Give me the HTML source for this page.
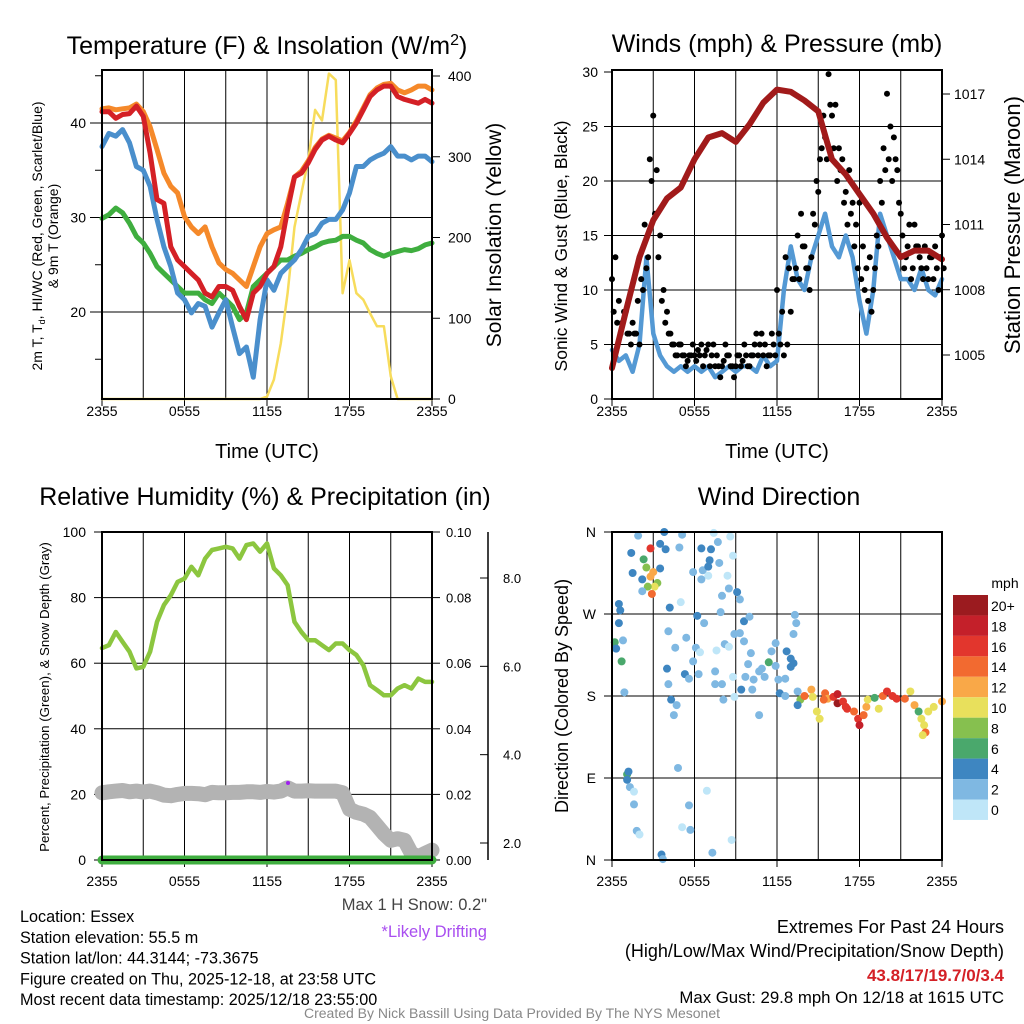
<!DOCTYPE html>
<html><head><meta charset="utf-8"><style>
body{margin:0;background:#fff;}
svg{display:block;font-family:"Liberation Sans",sans-serif;}
</style></head><body>
<svg id="c" width="1024" height="1024" viewBox="0 0 1024 1024"></svg>
<script>
// ---- data ----
const hrs49 = Array.from({length:49},(_,i)=>i*0.5);
const hrs25 = Array.from({length:25},(_,i)=>i);
const hrs97 = Array.from({length:97},(_,i)=>i*0.25);
const hrs97b = Array.from({length:97},(_,i)=>i*0.25+0.125);
const xTickLabels = ["2355","0555","1155","1755","2355"];
const tempRed = [41.2,41.2,40.5,40.9,41,41.8,40.7,36.8,31.9,31.5,26.9,25.5,24.8,24.1,23.4,22,21.6,22.7,22.7,22.3,20.6,19.2,22,22.7,24.1,24.8,26.9,30.8,34.3,34.7,35.8,37.2,38.2,38.6,38.2,37.9,38.9,40,41.4,42.8,43.5,43.9,43.9,42.8,42.5,42.3,42.1,42.5,42.1];
const tempOrange = [41.5,41.6,41.4,41.5,41.6,42,41.2,39.6,37.2,34.7,33.3,32.6,30.1,29,28.3,29,26.9,25.2,24.5,24.1,23.4,22.7,24.8,26.9,28.3,28.7,29,31.5,34.3,34.9,36,37.4,38.3,38.7,38.4,38.1,39,40.2,41.6,43,43.7,44.1,44.2,43.5,43.2,43.5,43.9,43.9,43.5];
const tempBlue = [37.5,38.9,38.6,39.3,37.9,35.4,35,33.3,29.8,26.9,24.8,22,21.3,19.9,20.9,20.6,18.4,19.9,21.3,18.4,15.6,16.3,13.1,19.2,23.4,22.3,24.1,24.8,25.5,26.6,28,28.3,29.4,29.8,29.8,30.8,32.6,35.4,35.4,36.1,36.5,36.8,37.5,36.5,36.5,36.1,36.5,36.5,35.9];
const tempGreen = [29.9,30.3,31,30.5,29.4,28,27.3,26.2,24.8,24.1,23.4,22.7,22,22,22,21.3,20.9,22,21.3,20.6,19.2,19.9,22.7,23.4,24.1,24.8,25.5,25.5,25.9,26.2,26.6,26.9,27.3,27.5,27.6,28,28,27.6,27.3,26.6,26.2,25.9,26.2,26.4,26.6,26.5,26.7,27.1,27.3];
const solar = [0,0,0,0,0,0,0,0,0,0,0,0,0,0,0,0,0,0,0,0,0,0,0,0,3,24,69,131,213,255,296,358,345,403,395,131,172,131,123,106,90,90,28,0,0,0,0,0,0];
const windSpd = [4.5,3.5,4,2.5,5,13,6,4,3,2.5,3,2.5,3,2.5,3,2,2.5,3,2.5,3,3,2.5,4,3,3.5,10,14,11,10,13,15,17,14,13,15,13,9,6,10,17,15,13,11,11,10,12,10,9.5,11];
const windGust = [11,13,9,7,8,6,7,6,5,10,12,22,26,21,15,10,8,6,5,4,5,4,3.5,4,4,4.5,5,4,5,4,3,3,3,5,4,3,3,4,3.5,4,3,4,6,5,4,3,4,5,10,5,4,5,8,11,15,17,14,12,13,16,19,23,24,29.8,26,27,23,22,19,21,18,16,18,14,12,13,10,15,20,23,28,25,24,21,17,12,14,11,16,14,12,14,11,13,14,10,15];
const windGust2 = [8,7,6,8,6,5,6,9,11,16,13,20,17,13,9,7,6,5,4,5,4,3,4,5,3.5,4,3,4.5,3,5,4,2,3.5,4,3,2,4,3,5,3,4,5,4,6,5,4,6,4,6,8,13,12,11,12,11,14,12,10,17,20,22,26,22,27,23,20,21,18,16,17,14,12,11,10,9,8,12,14,18,21,22,20,22,18,15,13,16,12,14,13,11,12,13,11,12,13,12];
const pressure = [1004.4,1007,1009.5,1011.2,1012.2,1012.7,1014,1015,1015.2,1014.8,1015.6,1016.6,1017.2,1017.1,1016.7,1016.2,1014,1013.3,1012.4,1011.5,1010.4,1009.5,1009.8,1009.8,1009.4];
const rh = [64.6,65.5,69.5,66.5,63.5,58.4,58.9,63.5,72.6,77.7,80.7,84.8,85.8,89.4,86.8,91.9,94.5,95,95.5,95,91.9,96,96.5,94,96.5,88.9,86.8,83.8,72.6,69.5,67,67,65.5,64,66,66,64,62.5,59.4,53.3,51.8,50.2,50.2,52.3,53.3,52.3,55.3,54.3,54.3];
const snowPct = [20.5,20.8,21,21.2,20.8,21,20.7,21,20.5,19.8,19.6,20,20.3,20.3,20.2,19.9,20.6,20.5,20.5,20.6,20.6,20.8,20.8,20.6,20.9,20.7,21,22,21,21,21.1,21,21,21,21,20.5,15.5,14.5,14,13,10.5,8,6,6.5,6,2,1,2,3];
const precip = new Array(49).fill(0);
const wdTime=[1.9,3.8,5.1,7.4,1.4,2.8,2.3,3.5,3.9,4.9, 6.5,7.2,7.7,8.6,8.8,1.5,2.2,2.5,3.0,2.8, 3.3,3.1,2.6,2.9,2.2,3.5,5.9,6.6,7.0,6.5, 7.1,7.0,7.8,8.4,8.5,8.0,9.1,9.3,5.0,4.2, 0.5,0.6,0.5,0.2,0.8,0.3,0.7,0.9,4.1,5.4, 4.6,6.1,6.4,6.7,6.2,7.9,7.6,8.2,8.5,9.6, 10.0,9.3,8.9,9.6,10.1,9.9,4.0,5.3,5.6,5.9, 6.3,7.5,4.1,7.5,8.0,8.8,9.7,10.3,10.7,11.4, 10.9,11.6,11.9,11.9,11.1,12.7,13.0,13.0,13.2,13.3, 13.4,13.2,12.1,12.6,9.4,10.2,12.2,12.6,8.1,8.9, 4.3,4.7,4.5,10.7,1.1,1.2,1.1,1.3,1.6,1.6, 1.8,2.0,4.8,5.6,5.1,5.7,6.9,7.3,8.7,3.6, 3.7,
13.5,13.7,13.5,14.0,14.5,14.6,14.9,15.1,15.5,15.7, 16.1,16.4,16.4,16.8,17.1,17.6,17.9,18.0,18.3,18.5, 18.6,19.1,19.4,19.7,20.0,20.4,20.7,21.3,21.7,22.0, 22.3,22.5,22.7,22.8,23.0,23.4,24.0,22.6,15.4,17.0];
const wdDir=[356,360,357,359,337,342,330,347,341,343, 342,341,349,355,334,315,308,321,316,311, 304,300,300,292,295,320,316,318,312,308, 329,322,326,312,298,290,294,286,283,277, 281,274,260,239,241,232,218,184,251,244, 233,233,228,260,268,272,230,237,234,262, 267,249,248,240,227,215,210,204,199,218, 204,207,193,193,193,201,201,198,207,217, 210,229,238,213,201,229,221,212,216,269, 260,248,198,199,187,187,183,180,176,179, 176,170,159,159,94,97,88,80,75,61, 32,28,101,60,36,33,76,8,22,6, 1,
185,176,170,180,187,179,163,155,183,177, 179,182,172,174,166,163,155,148,159,168, 176,178,166,180,185,180,177,177,185,170, 163,155,148,140,163,168,174,137,176,168];
const wdSpd=[2.5,4.5,2.5,0.5,4.5,16.5,6.5,4.5,4.5,2.5, 4.5,4.5,2.5,0.5,0.5,4.5,4.5,8.5,12.5,12.5, 8.5,10.5,8.5,14.5,2.5,4.5,2.5,2.5,0.5,2.5, 4.5,4.5,2.5,0.5,2.5,2.5,4.5,2.5,0.5,4.5, 4.5,4.5,4.5,6.5,2.5,4.5,6.5,2.5,2.5,2.5, 2.5,2.5,0.5,2.5,4.5,2.5,0.5,2.5,0.5,4.5, 2.5,2.5,2.5,2.5,2.5,2.5,4.5,4.5,2.5,2.5, 2.5,2.5,2.5,2.5,2.5,0.5,2.5,2.5,2.5,6.5, 2.5,2.5,2.5,2.5,2.5,4.5,4.5,4.5,4.5,2.5, 2.5,2.5,2.5,2.5,4.5,2.5,4.5,2.5,2.5,0.5, 4.5,2.5,2.5,2.5,6.5,4.5,4.5,2.5,0.5,2.5, 2.5,0.5,2.5,2.5,0.5,2.5,0.5,2.5,0.5,4.5, 2.5,
2.5,8.5,4.5,14.5,12.5,10.5,10.5,10.5,14.5,12.5, 16.5,18.5,20.5,16.5,16.5,14.5,16.5,18.5,14.5,12.5, 10.5,6.5,10.5,14.5,16.5,16.5,16.5,14.5,10.5,12.5, 6.5,10.5,10.5,14.5,10.5,10.5,12.5,10.5,14.5,16.5];
const cbLabels=["20+","18","16","14","12","10","8","6","4","2","0"];
const cbColors=["#9b1b1f","#c4202a","#e2362d","#f26a30","#f9a848","#e8e05c","#86c04f","#4aa86c","#3e86c1","#7fb8e2","#bfe6f8"];

const svg=document.getElementById('c');
const NS="http://www.w3.org/2000/svg";
function el(tag,attrs,parent){const e=document.createElementNS(NS,tag);for(const k in attrs)e.setAttribute(k,attrs[k]);(parent||svg).appendChild(e);return e;}
function txt(x,y,s,size,anchor,parent,extra){const t=el('text',Object.assign({x:x,y:y,'font-size':size,'text-anchor':anchor||'middle',fill:'#000'},extra||{}),parent);t.textContent=s;return t;}
function lin(d0,d1,r0,r1){return v=>r0+(v-d0)*(r1-r0)/(d1-d0);}
function path(xs,ys,fx,fy,stroke,w,name,parent){let d='';xs.forEach((x,i)=>{d+=(i?'L':'M')+fx(x).toFixed(1)+','+fy(ys[i]).toFixed(1);});const p=el('path',{d:d,fill:'none',stroke:stroke,'stroke-width':w,'stroke-linejoin':'round','stroke-linecap':'round'},parent);return p;}

function panel(x0,x1,y0,y1,name,lblOff){
  const g=el('g',{});
  
  
  const fx=lin(0,24,x0,x1);
  for(let h=3;h<24;h+=3){el('line',{x1:fx(h),x2:fx(h),y1:y0,y2:y1,stroke:'#000','stroke-width':1},g);}
  xTickLabels.forEach((l,i)=>{const x=fx(i*6);el('line',{x1:x,x2:x,y1:y1,y2:y1+7,stroke:'#000'},g);const t=txt(x,y1+lblOff,l,14,'middle',g);});
  return {g,fx};
}
function frame(g,x0,x1,y0,y1){el('rect',{x:x0,y:y0,width:x1-x0,height:y1-y0,fill:'none',stroke:'#000','stroke-width':2},g);}

// ===== Panel 1 =====
{
 const X0=102,X1=432,Y0=70,Y1=399;
 const {g,fx}=panel(X0,X1,Y0,Y1,'temperature-panel',17);
 const fy=lin(20,40,312,123);
 const fs=lin(0,400,399,76);
 [20,30,40].forEach(v=>{el('line',{x1:X0,x2:X1,y1:fy(v),y2:fy(v),stroke:'#000'},g);el('line',{x1:X0-12,x2:X0,y1:fy(v),y2:fy(v),stroke:'#000'},g);const t=txt(X0-16,fy(v)+5,String(v),14,'end',g);});
 [15,25,35,45].forEach(v=>el('line',{x1:X0-7,x2:X0,y1:fy(v),y2:fy(v),stroke:'#000'},g));
 [0,100,200,300,400].forEach(v=>{el('line',{x1:X1,x2:X1+8,y1:fs(v),y2:fs(v),stroke:'#000'},g);txt(X1+16,fs(v)+5,String(v),14,'start',g);});
 path(hrs49,solar,fx,fs,'#f7dc5c',2.5,'solar-insolation-line',g);
 path(hrs49,tempGreen,fx,fy,'#3fae3f',5,'dewpoint-line',g);
 path(hrs49,tempBlue,fx,fy,'#4a8fcc',5,'windchill-line',g);
 path(hrs49,tempOrange,fx,fy,'#f5892a',5,'temp-9m-line',g);
 path(hrs49,tempRed,fx,fy,'#d42026',5,'temp-2m-line',g);
 frame(g,X0,X1,Y0,Y1);
 const t1=txt(267,54,'',25,'middle',g);t1.innerHTML='Temperature (F) &amp; Insolation (W/m<tspan dy="-9" font-size="16">2</tspan><tspan dy="9">)</tspan>';
 
 const xt=txt(267,458,'Time (UTC)',20,'middle',g);
 const yl=el('text',{transform:'translate(42,236) rotate(-90)','font-size':14,'text-anchor':'middle'},g);yl.innerHTML='2m T, T<tspan font-size="9" dy="3">d</tspan><tspan dy="-3">, HI/WC (Red, Green, Scarlet/Blue)</tspan>';
 
 txt(0,0,'& 9m T (Orange)',14,'middle',g,{transform:'translate(58,236) rotate(-90)'});
 const yr=txt(0,0,'Solar Insolation (Yellow)',21,'middle',g,{transform:'translate(501,235) rotate(-90)'});
}
// ===== Panel 2 =====
{
 const X0=612,X1=942,Y0=70,Y1=399;
 const {g,fx}=panel(X0,X1,Y0,Y1,'winds-panel',17);
 const fy=lin(0,30,399,72);
 const fp=lin(1005,1017,355,94);
 [5,10,15,20,25].forEach(v=>el('line',{x1:X0,x2:X1,y1:fy(v),y2:fy(v),stroke:'#000'},g));
 [0,5,10,15,20,25,30].forEach(v=>{el('line',{x1:X0-8,x2:X0,y1:fy(v),y2:fy(v),stroke:'#000'},g);txt(X0-14,fy(v)+5,String(v),14,'end',g);});
 [1005,1008,1011,1014,1017].forEach(v=>{el('line',{x1:X1,x2:X1+8,y1:fp(v),y2:fp(v),stroke:'#000'},g);txt(X1+12,fp(v)+5,String(v),14,'start',g);});
 path(hrs49,windSpd,fx,fy,'#5499d4',4.5,'sonic-wind-line',g);
 hrs97.forEach((h,i)=>{const c=el('circle',{cx:fx(h),cy:fy(windGust[i]),r:3,fill:'#000'},g);});
 hrs97b.forEach((h,i)=>{const c=el('circle',{cx:fx(h),cy:fy(windGust2[i]),r:3,fill:'#000'},g);});
 path(hrs25,pressure,fx,fp,'#a11a1a',6,'pressure-line',g);
 frame(g,X0,X1,Y0,Y1);
 const t=txt(777,52,'Winds (mph) & Pressure (mb)',25,'middle',g);
 txt(777,458,'Time (UTC)',20,'middle',g);
 txt(0,0,'Sonic Wind & Gust (Blue, Black)',17.5,'middle',g,{transform:'translate(567,246) rotate(-90)'});
 txt(0,0,'Station Pressure (Maroon)',22,'middle',g,{transform:'translate(1020,225) rotate(-90)'});
}
// ===== Panel 3 =====
{
 const X0=102,X1=432,Y0=532,Y1=860;
 const {g,fx}=panel(X0,X1,Y0,Y1,'humidity-panel',26);
 const fy=lin(0,100,860,532);
 const fpr=lin(0,0.1,860,532);
 const fsn=lin(2,8,843,578);
 [20,40,60,80].forEach(v=>el('line',{x1:X0,x2:X1,y1:fy(v),y2:fy(v),stroke:'#000'},g));
 [0,20,40,60,80,100].forEach(v=>{el('line',{x1:X0-8,x2:X0,y1:fy(v),y2:fy(v),stroke:'#000'},g);txt(X0-16,fy(v)+5,String(v),14,'end',g);});
 [0,0.02,0.04,0.06,0.08,0.10].forEach(v=>{el('line',{x1:X1,x2:X1+8,y1:fpr(v),y2:fpr(v),stroke:'#000'},g);txt(X1+14,fpr(v)+5,v.toFixed(2),13,'start',g);});
 el('line',{x1:488,x2:488,y1:532,y2:860,stroke:'#000','stroke-width':1.5},g);
 [2,4,6,8].forEach(v=>{el('line',{x1:480,x2:488,y1:fsn(v),y2:fsn(v),stroke:'#000'},g);txt(503,fsn(v)+5,v.toFixed(1),13,'start',g);});
 path(hrs49,snowPct,fx,fy,'#b3b3b3',15,'snow-depth-line',g);
 path(hrs49,rh,fx,fy,'#8cc63f',4.5,'relative-humidity-line',g);
 path(hrs49,precip,fx,fpr,'#3fae3f',9,'precipitation-line',g);
 el('circle',{cx:288,cy:783,r:2,fill:'#a020f0'},g);
 frame(g,X0,X1,Y0,Y1);
 const t=txt(265,505,'Relative Humidity (%) & Precipitation (in)',25,'middle',g);
 txt(0,0,'Percent, Precipitation (Green), & Snow Depth (Gray)',13.3,'middle',g,{transform:'translate(49,697) rotate(-90)'});
 txt(487,910,'Max 1 H Snow: 0.2"',16.5,'end',g,{fill:'#444'});
 txt(487,937,'*Likely Drifting',16.5,'end',g,{fill:'#a94ef0'});
}
// ===== Panel 4 =====
{
 const X0=612,X1=942,Y0=532,Y1=860;
 const {g,fx}=panel(X0,X1,Y0,Y1,'wind-direction-panel',26);
 const fy=lin(0,360,860,532);
 const dl=['N','E','S','W','N'];
 [0,90,180,270,360].forEach((v,i)=>{el('line',{x1:X0,x2:X1,y1:fy(v),y2:fy(v),stroke:'#000'},g);el('line',{x1:X0-8,x2:X0,y1:fy(v),y2:fy(v),stroke:'#000'},g);txt(X0-16,fy(v)+5,dl[i],14,'end',g);});
 wdTime.forEach((h,i)=>{const b=Math.min(10,Math.floor((wdSpd[i]+1)/2));const c=el('circle',{cx:fx(h),cy:fy(wdDir[i]),r:4,fill:cbColors[10-b]},g);});
 frame(g,X0,X1,Y0,Y1);
 const t=txt(779,505,'Wind Direction',25,'middle',g);
 txt(0,0,'Direction (Colored By Speed)',18,'middle',g,{transform:'translate(568,696) rotate(-90)'});
 const cb=el('g',{},g);
 cbColors.forEach((c,i)=>{el('rect',{x:953,y:595+i*20.45,width:35,height:20.45,fill:c},cb);txt(991,611+i*20.4,cbLabels[i],14,'start',cb);});
 txt(1005,588,'mph',14,'middle',cb);
}
// ===== Footer text =====
{
 const g=el('g',{});
 ['Location: Essex','Station elevation: 55.5 m','Station lat/lon: 44.3144; -73.3675','Figure created on Thu, 2025-12-18, at 23:58 UTC','Most recent data timestamp: 2025/12/18 23:55:00'].forEach((s,i)=>txt(20,922+i*20.8,s,16.2,'start',g));
 const r=el('g',{});
 txt(1004,933,'Extremes For Past 24 Hours',18,'end',r);
 txt(1004,957,'(High/Low/Max Wind/Precipitation/Snow Depth)',18,'end',r);
 txt(1004,981,'43.8/17/19.7/0/3.4',17,'end',r,{fill:'#d42026','font-weight':'bold'});
 txt(1004,1003,'Max Gust: 29.8 mph On 12/18 at 1615 UTC',16.8,'end',r);
 const c=txt(512,1018,'Created By Nick Bassill Using Data Provided By The NYS Mesonet',14,'middle');c.setAttribute('fill','#888');
}
</script>
</body></html>
